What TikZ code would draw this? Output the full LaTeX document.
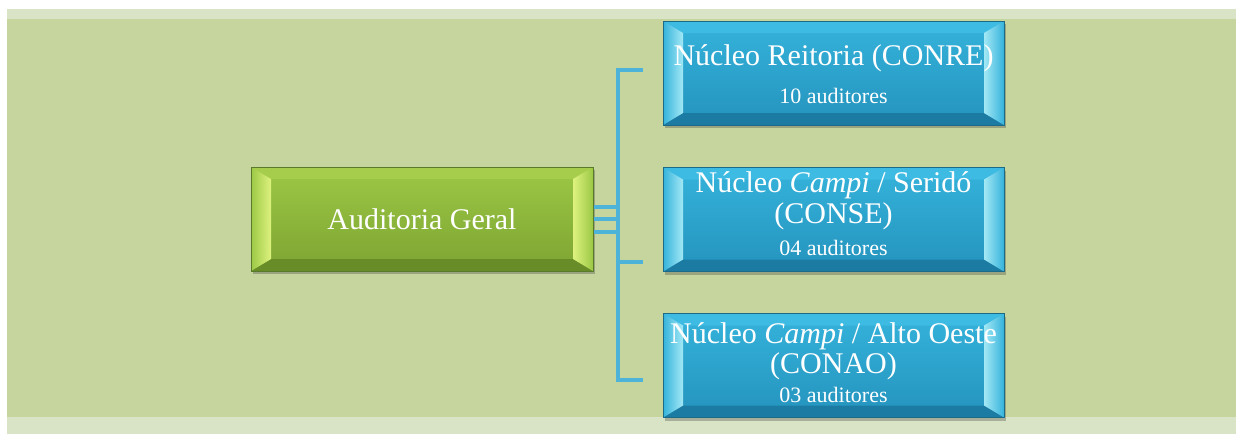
\documentclass[tikz,border=0pt]{standalone}
\usepackage{fontspec}
\setmainfont{Liberation Serif}
\usepackage{tikz}
\usetikzlibrary{calc,positioning,shadows}
\definecolor{bgMain}{HTML}{C5D59D}
\definecolor{bgStrip}{HTML}{D9E3C5}
\definecolor{gFaceT}{HTML}{9CC845}
\definecolor{gFaceB}{HTML}{7DA432}
\definecolor{gTop}{HTML}{A6CE4C}
\definecolor{gBot}{HTML}{688C28}
\definecolor{gSide}{HTML}{DDF27E}
\definecolor{gEdge}{HTML}{587A2A}
\definecolor{bFaceT}{HTML}{35B3DB}
\definecolor{bFaceB}{HTML}{2493BD}
\definecolor{bTop}{HTML}{3DBBE2}
\definecolor{bBot}{HTML}{1C7BA2}
\definecolor{bSide}{HTML}{A3E8F5}
\definecolor{bEdge}{HTML}{1B6A88}
\definecolor{linkBlue}{HTML}{4DB3D9}
\tikzset{bevel/.style={rectangle, draw=#1Edge, line width=1pt,
  top color=#1FaceT, bottom color=#1FaceB, inner sep=0pt,
  minimum height=104pt, minimum width=341pt,
  drop shadow={shadow xshift=2pt, shadow yshift=-3pt, opacity=.35, fill=black!70},
  path picture={
    \coordinate (nw) at (path picture bounding box.north west);
    \coordinate (ne) at (path picture bounding box.north east);
    \coordinate (sw) at (path picture bounding box.south west);
    \coordinate (se) at (path picture bounding box.south east);
    \fill[#1Top] (nw) -- (ne) -- ([xshift=-20pt,yshift=-12pt]ne)
      -- ([xshift=20pt,yshift=-12pt]nw) -- cycle;
    \fill[#1Bot] (sw) -- (se) -- ([xshift=-20pt,yshift=12pt]se)
      -- ([xshift=20pt,yshift=12pt]sw) -- cycle;
    \shade[left color=#1FaceT, right color=#1Side] (nw)
      -- ([xshift=20pt,yshift=-12pt]nw) -- ([xshift=20pt,yshift=12pt]sw)
      -- (sw) -- cycle;
    \shade[left color=#1Side, right color=#1FaceT] (ne)
      -- ([xshift=-20pt,yshift=-12pt]ne) -- ([xshift=-20pt,yshift=12pt]se)
      -- (se) -- cycle;
  }}}
\tikzset{txt/.style={text=white, inner sep=0pt, anchor=base,
  font=\fontsize{30}{34}\selectfont}}
\tikzset{sub/.style={text=white, inner sep=0pt, anchor=base,
  font=\fontsize{22}{24}\selectfont}}
\tikzset{link/.style={draw, linkBlue, line width=4pt}}

\begin{document}
\begin{tikzpicture}[x=1pt,y=-1pt]
        \useasboundingbox (0,0) rectangle (1236,434);
        %% background
        \fill[bgStrip] (7,9) rectangle (1236,434);
        \fill[bgMain] (7,19) rectangle (1236,417);
        %% boxes
        \node (ag) at (422,219) [bevel=g, minimum width=342pt,
            text=white, font=\fontsize{30}{34}\selectfont] {Auditoria Geral};
        \node (n1) at (833.5,73) [bevel=b] {};
        \node (n2) at (833.5,219.5) [bevel=b] {};
        \node (n3) at (833.5,365.5) [bevel=b] {};
        \node (n1a) at ([yshift=8pt]n1.center) [txt] {Núcleo Reitoria (CONRE)};
        \node (n1b) at ([yshift=-30pt]n1.center) [sub] {10 auditores};
        \node (n2a) at ([yshift=27pt]n2.center) [txt] {Núcleo \textit{Campi} / Seridó};
        \node (n2b) at ([yshift=-4pt]n2.center) [txt] {(CONSE)};
        \node (n2c) at ([yshift=-36pt]n2.center) [sub] {04 auditores};
        \node (n3a) at ([yshift=22pt]n3.center) [txt] {Núcleo \textit{Campi} / Alto Oeste};
        \node (n3b) at ([yshift=-8pt]n3.center) [txt] {(CONAO)};
        \node (n3c) at ([yshift=-37pt]n3.center) [sub] {03 auditores};
        %% bracket
        \coordinate (t1) at ([xshift=-20pt,yshift=3pt]n1.west);
        \coordinate (t2) at ([xshift=-20pt,yshift=-42.5pt]n2.west);
        \coordinate (t3) at ([xshift=-20pt,yshift=-14.5pt]n3.west);
        \draw [link] (t1) -- ++(-25,0) |- (t3);
        \draw [link] (t2) -- ++(-25,0);
        \foreach \dy in {12,0,-13}
            \draw [link] ([yshift=\dy pt]ag.east) -- ++(25,0);
    \end{tikzpicture}
\end{document}
